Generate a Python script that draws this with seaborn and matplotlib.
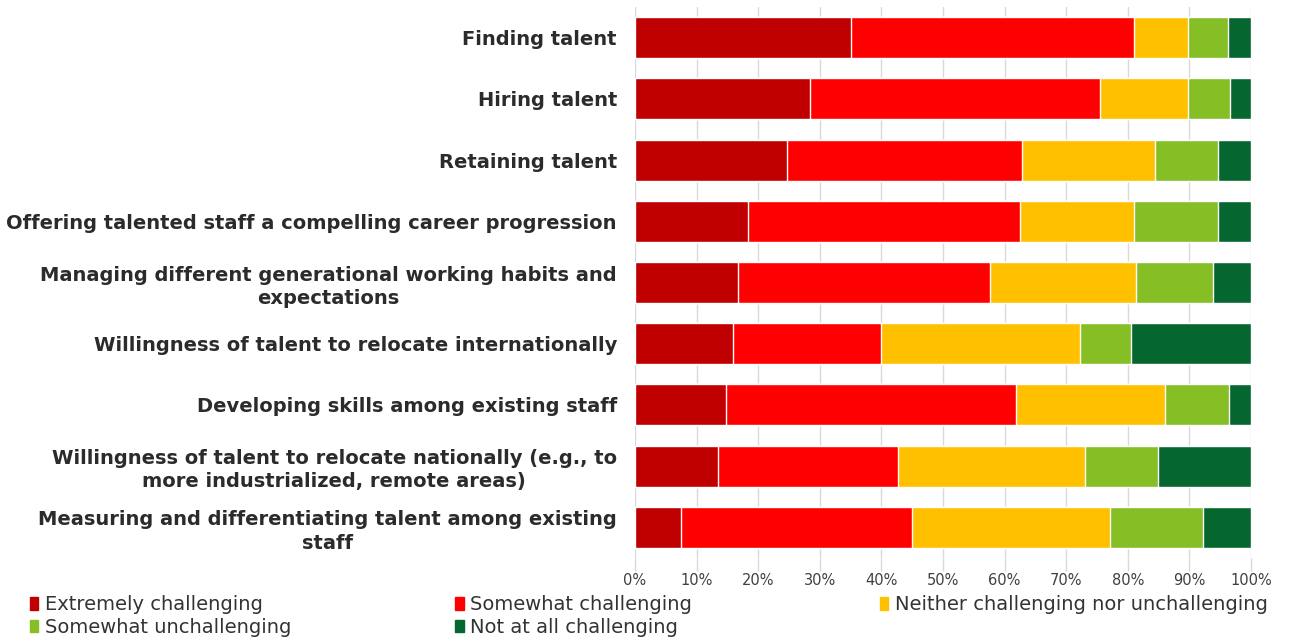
import numpy as np
import pandas as pd
import matplotlib
matplotlib.use("Agg")
import matplotlib.pyplot as plt
from matplotlib.patches import Patch
import seaborn as sns

categories = [
    "Finding talent",
    "Hiring talent",
    "Retaining talent",
    "Offering talented staff a compelling career progression",
    "Managing different generational working habits and\nexpectations",
    "Willingness of talent to relocate internationally",
    "Developing skills among existing staff",
    "Willingness of talent to relocate nationally (e.g., to\nmore industrialized, remote areas)",
    "Measuring and differentiating talent among existing\nstaff",
]

levels = [
    "Extremely challenging",
    "Somewhat challenging",
    "Neither challenging nor unchallenging",
    "Somewhat unchallenging",
    "Not at all challenging",
]

extremely = [35.0, 28.4, 24.7, 18.3, 16.7, 15.9, 14.8, 13.5, 7.5]
somewhat = [46.0, 47.1, 38.1, 44.2, 40.9, 24.0, 47.1, 29.2, 37.5]
neither = [8.8, 14.3, 21.6, 18.5, 23.7, 32.3, 24.1, 30.4, 32.1]
unchallenging = [6.5, 6.8, 10.2, 13.6, 12.5, 8.3, 10.4, 11.8, 15.1]
not_at_all = [3.7, 3.4, 5.4, 5.4, 6.2, 19.5, 3.6, 15.1, 7.8]

palette = ["#C00000", "#FF0000", "#FFC000", "#86BE26", "#05672F"]

x_ticks = [0, 10, 20, 30, 40, 50, 60, 70, 80, 90, 100]
x_tick_labels = [f"{t}%" for t in x_ticks]

series = [extremely, somewhat, neither, unchallenging, not_at_all]
wide = pd.DataFrame(dict(zip(levels, series)), index=categories)
cumulative = wide.cumsum(axis=1)

sns.set_theme(style="white")
plt.rcParams["font.family"] = ["DejaVu Sans"]

fig = plt.figure(figsize=(12.9, 6.41), dpi=100)
ax = fig.add_axes([0.4922, 0.1295, 0.4776, 0.8595])

# Stacked horizontal bars: draw cumulative totals from the outermost segment inward
for level, color in reversed(list(zip(levels, palette))):
    sns.barplot(
        x=cumulative[level].values,
        y=categories,
        orient="h",
        color=color,
        width=0.67,
        saturation=1,
        ax=ax,
        zorder=3,
    )

ax.set_xlim(0, 100)
ax.set_ylim(len(categories) - 0.5, -0.5)
ax.set_xticks(x_ticks)
ax.set_xticklabels(x_tick_labels, fontsize=10.5, color="#404040")
ax.set_xlabel("")
ax.set_ylabel("")
ax.xaxis.grid(True, color="#D9D9D9", linewidth=1, zorder=0)
ax.yaxis.grid(False)
for spine in ax.spines.values():
    spine.set_visible(False)
ax.tick_params(axis="x", which="major", bottom=True, length=9, width=1,
               color="#D9D9D9", pad=2)
ax.tick_params(axis="y", length=0, pad=13)
for lbl in ax.get_yticklabels():
    lbl.set_fontsize(14)
    lbl.set_fontweight("bold")
    lbl.set_color("#2B2B2B")
    lbl.set_multialignment("center")
    lbl.set_linespacing(1.28)

# Legend: three columns filled row by row
columns = [([0, 3], 0.023), ([1, 4], 0.353), ([2], 0.682)]
for idx, x0 in columns:
    fig.legend(
        [Patch(facecolor=palette[i], edgecolor=palette[i]) for i in idx],
        [levels[i] for i in idx],
        loc="upper left",
        bbox_to_anchor=(x0, 0.071),
        frameon=False,
        fontsize=14,
        handlelength=0.42,
        handleheight=0.6,
        handletextpad=0.35,
        labelspacing=0.18,
        borderpad=0.0,
        borderaxespad=0.0,
        labelcolor="#333333",
    )

fig.savefig("out.png", dpi=100)
